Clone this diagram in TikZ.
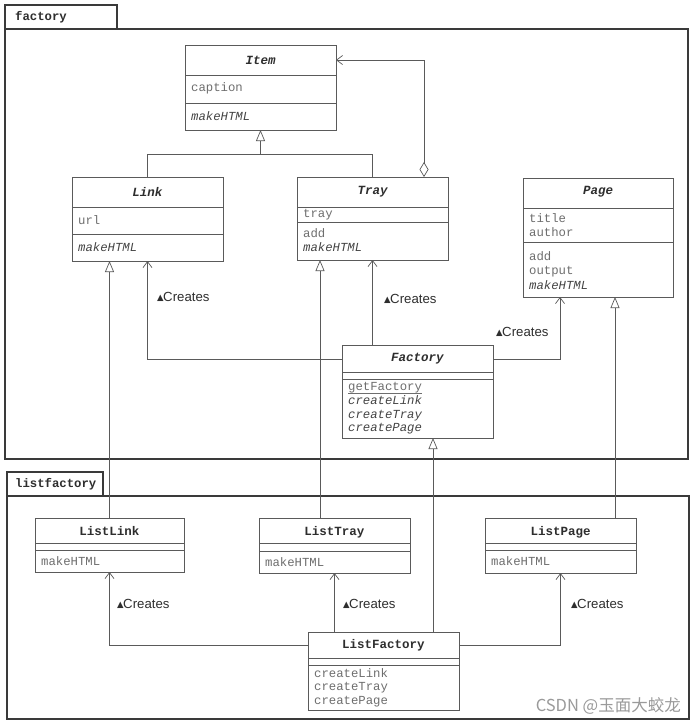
\documentclass[tikz,border=0pt]{standalone}
\usepackage{fontspec}
\setmainfont{Liberation Sans}
\setmonofont{Liberation Mono}
\newfontfamily\symf{DejaVu Sans}
\newfontfamily\cjkf{Noto Sans CJK SC}
\usetikzlibrary{calc,arrows.meta}
\definecolor{ln}{HTML}{5A5A5A}
\definecolor{pk}{HTML}{3A3A3A}
\definecolor{nm}{HTML}{2E2E2E}
\definecolor{at}{HTML}{6E6E6E}
\definecolor{op}{HTML}{444444}
\definecolor{wm}{HTML}{9A9A9A}
\tikzset{
  cls/.style={draw=ln, line width=0.8pt, fill=white, anchor=north west, inner sep=0pt, outer sep=0pt},
  pkgbox/.style={draw=pk, line width=1.6pt, anchor=north west, inner sep=0pt, outer sep=0pt},
  sep/.style={draw=ln, line width=0.8pt},
  cname/.style={font=\ttfamily\bfseries\fontsize{12.5}{14}\selectfont, text=nm, inner sep=0pt},
  aname/.style={font=\ttfamily\bfseries\itshape\fontsize{12.5}{14}\selectfont, text=nm, inner sep=0pt},
  memb/.style={font=\ttfamily\fontsize{12.3}{14.2}\selectfont, text=at, inner sep=0pt, anchor=west, align=left},
  pkname/.style={font=\ttfamily\bfseries\fontsize{12.3}{14}\selectfont, text=nm, inner sep=0pt, anchor=west},
  lbl/.style={font=\fontsize{13.2}{14}\selectfont, text=nm, inner sep=0pt, anchor=west},
  conn/.style={draw=ln, line width=0.7pt},
  inh/.style={conn, -{Triangle[open, length=11pt, width=9pt]}},
  dep/.style={conn, -{Straight Barb[length=6pt, width=9pt]}},
  agg/.style={conn, {Diamond[open, length=15pt, width=9pt]}-{Straight Barb[length=6pt, width=9pt]}},
}
\newcommand{\crt}{{\symf\fontsize{8.5}{9}\selectfont\raisebox{1.2pt}{▲}}\kern-0.5pt Creates}
\begin{document}
\begin{tikzpicture}[x=1pt, y=-1pt]
\useasboundingbox[fill=white] (0,0) rectangle (694,726);

% packages
\node[pkgbox, minimum width=112, minimum height=24] (pfactab) at (5,5) {};
\node[pkgbox, minimum width=683, minimum height=430] (pfac) at (5,29) {};
\node[pkname] (pfacname) at (15,17) {factory};
\node[pkgbox, minimum width=96, minimum height=24] (plisttab) at (7,472) {};
\node[pkgbox, minimum width=682, minimum height=223] (plist) at (7,496) {};
\node[pkname] (plistname) at (15,484) {listfactory};

% Item
\node[cls, minimum width=151, minimum height=85] (item) at (185,45) {};
\draw[sep] ($(item.north west)+(0,30)$) -- ($(item.north east)+(0,30)$);
\draw[sep] ($(item.north west)+(0,58)$) -- ($(item.north east)+(0,58)$);
\node[aname] (itemn) at ($(item.north)+(0,15)$) {Item};
\node[memb] (itema) at (191,88) {caption};
\node[memb, text=op] (itemo) at (191,116) {\itshape makeHTML};

% Link
\node[cls, minimum width=151, minimum height=84] (link) at (72,177) {};
\draw[sep] ($(link.north west)+(0,30)$) -- ($(link.north east)+(0,30)$);
\draw[sep] ($(link.north west)+(0,57)$) -- ($(link.north east)+(0,57)$);
\node[aname] (linkn) at ($(link.north)+(0,15)$) {Link};
\node[memb] (linka) at (78,220) {url};
\node[memb, text=op] (linko) at (78,247) {\itshape makeHTML};

% Tray
\node[cls, minimum width=151, minimum height=83] (tray) at (297,177) {};
\draw[sep] ($(tray.north west)+(0,30)$) -- ($(tray.north east)+(0,30)$);
\draw[sep] ($(tray.north west)+(0,45)$) -- ($(tray.north east)+(0,45)$);
\node[aname] (trayn) at ($(tray.north)+(0,15)$) {Tray};
\node[memb] (traya) at (303,214.5) {tray};
\node[memb] (trayo) at (303,240) {add\\\textcolor{op}{\itshape makeHTML}};

% Page
\node[cls, minimum width=150, minimum height=119] (page) at (523,178) {};
\draw[sep] ($(page.north west)+(0,30)$) -- ($(page.north east)+(0,30)$);
\draw[sep] ($(page.north west)+(0,64)$) -- ($(page.north east)+(0,64)$);
\node[aname] (pagen) at ($(page.north)+(0,14)$) {Page};
\node[memb] (pagea) at (529,225) {title\\author};
\node[memb] (pageo) at (529,270.5) {add\\output\\\textcolor{op}{\itshape makeHTML}};

% Factory
\node[cls, minimum width=151, minimum height=93] (factory) at (342,345) {};
\draw[sep] ($(factory.north west)+(0,27)$) -- ($(factory.north east)+(0,27)$);
\draw[sep] ($(factory.north west)+(0,34)$) -- ($(factory.north east)+(0,34)$);
\node[aname] (factoryn) at ($(factory.north)+(0,14)$) {Factory};
\node[memb, font=\ttfamily\fontsize{12.3}{13.6}\selectfont] (factoryo) at (348,408.5) {\makebox[0pt][l]{\rule[-3pt]{73.8pt}{0.6pt}}getFactory\\\textcolor{op}{\itshape createLink}\\\textcolor{op}{\itshape createTray}\\\textcolor{op}{\itshape createPage}};

% ListLink
\node[cls, minimum width=149, minimum height=54] (listlink) at (35,518) {};
\draw[sep] ($(listlink.north west)+(0,25)$) -- ($(listlink.north east)+(0,25)$);
\draw[sep] ($(listlink.north west)+(0,32)$) -- ($(listlink.north east)+(0,32)$);
\node[cname] (listlinkn) at ($(listlink.north)+(0,13)$) {ListLink};
\node[memb] (listlinko) at (41,561) {makeHTML};

% ListTray
\node[cls, minimum width=151, minimum height=55] (listtray) at (259,518) {};
\draw[sep] ($(listtray.north west)+(0,25)$) -- ($(listtray.north east)+(0,25)$);
\draw[sep] ($(listtray.north west)+(0,33)$) -- ($(listtray.north east)+(0,33)$);
\node[cname] (listtrayn) at ($(listtray.north)+(0,14)$) {ListTray};
\node[memb] (listtrayo) at (265,562) {makeHTML};

% ListPage
\node[cls, minimum width=151, minimum height=55] (listpage) at (485,518) {};
\draw[sep] ($(listpage.north west)+(0,25)$) -- ($(listpage.north east)+(0,25)$);
\draw[sep] ($(listpage.north west)+(0,32)$) -- ($(listpage.north east)+(0,32)$);
\node[cname] (listpagen) at ($(listpage.north)+(0,14)$) {ListPage};
\node[memb] (listpageo) at (491,561) {makeHTML};

% ListFactory
\node[cls, minimum width=151, minimum height=78] (listfactory) at (308,632) {};
\draw[sep] ($(listfactory.north west)+(0,26)$) -- ($(listfactory.north east)+(0,26)$);
\draw[sep] ($(listfactory.north west)+(0,33)$) -- ($(listfactory.north east)+(0,33)$);
\node[cname] (listfactoryn) at ($(listfactory.north)+(0,13)$) {ListFactory};
\node[memb, font=\ttfamily\fontsize{12.3}{13.6}\selectfont] (listfactoryo) at (314,687.5) {createLink\\createTray\\createPage};

% generalization to Item
\coordinate (ij) at ($(item.south)+(0,24)$);
\draw[conn] (link.north) |- (ij);
\draw[conn] (tray.north) |- (ij);
\draw[inh] (ij) -- (item.south);

% aggregation Tray -> Item
\draw[agg] ($(tray.north west)+(127,0)$) |- ($(item.north east)+(0,15)$);

% Factory creates
\draw[dep] ($(factory.north west)+(0,14)$) -| (link.south);
\draw[dep] (factory.north -| tray.south) -- (tray.south);
\draw[dep] ($(factory.north east)+(0,14)$) -| ($(page.south west)+(37,0)$);

% list inheritance
\draw[inh] (listlink.north) -- (link.south west -| listlink.north);
\draw[inh] ($(listtray.north west)+(61,0)$) -- ($(tray.south west)+(23,0)$);
\draw[inh] ($(listpage.north west)+(130,0)$) -- ($(page.south west)+(92,0)$);
\draw[inh] ($(listfactory.north west)+(125,0)$) -- ($(factory.south west)+(91,0)$);

% ListFactory creates
\draw[dep] ($(listfactory.north west)+(0,13)$) -| (listlink.south);
\draw[dep] (listfactory.north -| listtray.south) -- (listtray.south);
\draw[dep] ($(listfactory.north east)+(0,13)$) -| (listpage.south);

% labels
\node[lbl] (c1) at (157,297) {\crt};
\node[lbl] (c2) at (384,299) {\crt};
\node[lbl] (c3) at (496,332) {\crt};
\node[lbl] (c4) at (117,604) {\crt};
\node[lbl] (c5) at (343,604) {\crt};
\node[lbl] (c6) at (571,604) {\crt};

% watermark
\node[font=\cjkf\fontsize{16.5}{18}\selectfont, text=wm, anchor=east, inner sep=0pt] (wmark) at (681,706) {CSDN @玉面大蛟龙};
\end{tikzpicture}
\end{document}
